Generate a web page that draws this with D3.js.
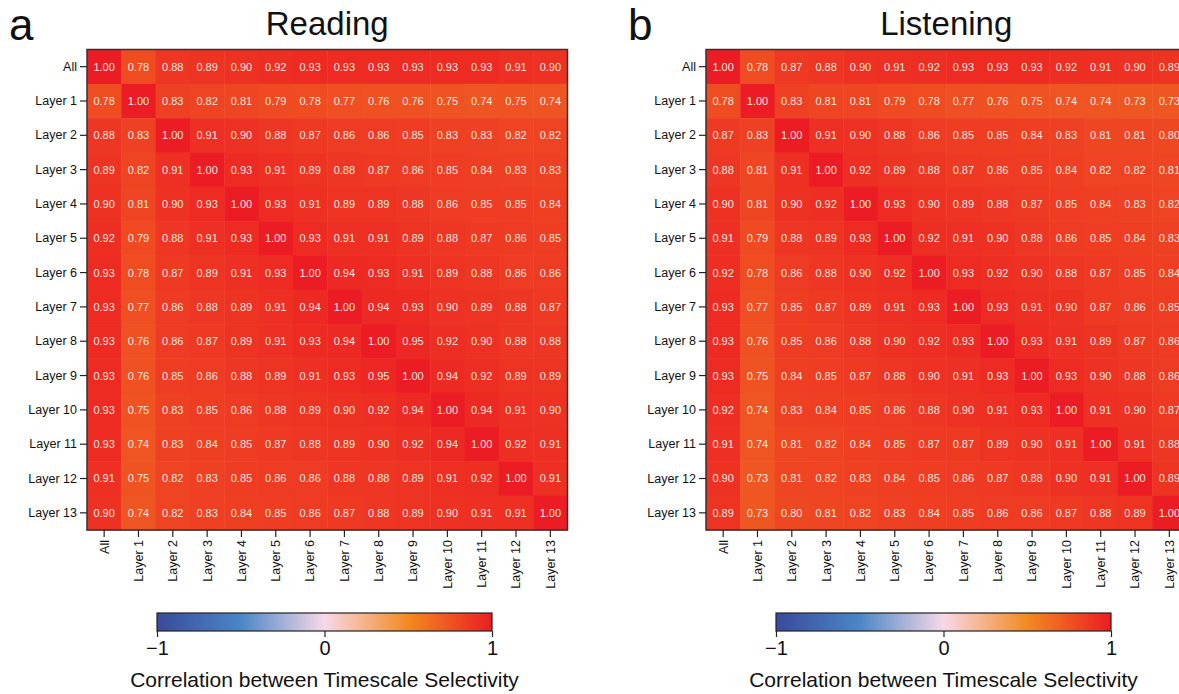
<!DOCTYPE html>
<html>
<head>
<meta charset="utf-8">
<script src="https://cdn.jsdelivr.net/npm/d3@7"></script>
<style>
  body { margin: 0; background: #fff; }
  svg { display: block; font-family: "Liberation Sans", Arial, sans-serif; }
</style>
</head>
<body>
<div id="chart"></div>
<script>
// labels shared by both matrices
const layers = ["All", "Layer 1", "Layer 2", "Layer 3", "Layer 4", "Layer 5", "Layer 6",
  "Layer 7", "Layer 8", "Layer 9", "Layer 10", "Layer 11", "Layer 12", "Layer 13"];

// panel a - Reading
const reading = [
  [1.00, 0.78, 0.88, 0.89, 0.90, 0.92, 0.93, 0.93, 0.93, 0.93, 0.93, 0.93, 0.91, 0.90],
  [0.78, 1.00, 0.83, 0.82, 0.81, 0.79, 0.78, 0.77, 0.76, 0.76, 0.75, 0.74, 0.75, 0.74],
  [0.88, 0.83, 1.00, 0.91, 0.90, 0.88, 0.87, 0.86, 0.86, 0.85, 0.83, 0.83, 0.82, 0.82],
  [0.89, 0.82, 0.91, 1.00, 0.93, 0.91, 0.89, 0.88, 0.87, 0.86, 0.85, 0.84, 0.83, 0.83],
  [0.90, 0.81, 0.90, 0.93, 1.00, 0.93, 0.91, 0.89, 0.89, 0.88, 0.86, 0.85, 0.85, 0.84],
  [0.92, 0.79, 0.88, 0.91, 0.93, 1.00, 0.93, 0.91, 0.91, 0.89, 0.88, 0.87, 0.86, 0.85],
  [0.93, 0.78, 0.87, 0.89, 0.91, 0.93, 1.00, 0.94, 0.93, 0.91, 0.89, 0.88, 0.86, 0.86],
  [0.93, 0.77, 0.86, 0.88, 0.89, 0.91, 0.94, 1.00, 0.94, 0.93, 0.90, 0.89, 0.88, 0.87],
  [0.93, 0.76, 0.86, 0.87, 0.89, 0.91, 0.93, 0.94, 1.00, 0.95, 0.92, 0.90, 0.88, 0.88],
  [0.93, 0.76, 0.85, 0.86, 0.88, 0.89, 0.91, 0.93, 0.95, 1.00, 0.94, 0.92, 0.89, 0.89],
  [0.93, 0.75, 0.83, 0.85, 0.86, 0.88, 0.89, 0.90, 0.92, 0.94, 1.00, 0.94, 0.91, 0.90],
  [0.93, 0.74, 0.83, 0.84, 0.85, 0.87, 0.88, 0.89, 0.90, 0.92, 0.94, 1.00, 0.92, 0.91],
  [0.91, 0.75, 0.82, 0.83, 0.85, 0.86, 0.86, 0.88, 0.88, 0.89, 0.91, 0.92, 1.00, 0.91],
  [0.90, 0.74, 0.82, 0.83, 0.84, 0.85, 0.86, 0.87, 0.88, 0.89, 0.90, 0.91, 0.91, 1.00]
];

// panel b - Listening
const listening = [
  [1.00, 0.78, 0.87, 0.88, 0.90, 0.91, 0.92, 0.93, 0.93, 0.93, 0.92, 0.91, 0.90, 0.89],
  [0.78, 1.00, 0.83, 0.81, 0.81, 0.79, 0.78, 0.77, 0.76, 0.75, 0.74, 0.74, 0.73, 0.73],
  [0.87, 0.83, 1.00, 0.91, 0.90, 0.88, 0.86, 0.85, 0.85, 0.84, 0.83, 0.81, 0.81, 0.80],
  [0.88, 0.81, 0.91, 1.00, 0.92, 0.89, 0.88, 0.87, 0.86, 0.85, 0.84, 0.82, 0.82, 0.81],
  [0.90, 0.81, 0.90, 0.92, 1.00, 0.93, 0.90, 0.89, 0.88, 0.87, 0.85, 0.84, 0.83, 0.82],
  [0.91, 0.79, 0.88, 0.89, 0.93, 1.00, 0.92, 0.91, 0.90, 0.88, 0.86, 0.85, 0.84, 0.83],
  [0.92, 0.78, 0.86, 0.88, 0.90, 0.92, 1.00, 0.93, 0.92, 0.90, 0.88, 0.87, 0.85, 0.84],
  [0.93, 0.77, 0.85, 0.87, 0.89, 0.91, 0.93, 1.00, 0.93, 0.91, 0.90, 0.87, 0.86, 0.85],
  [0.93, 0.76, 0.85, 0.86, 0.88, 0.90, 0.92, 0.93, 1.00, 0.93, 0.91, 0.89, 0.87, 0.86],
  [0.93, 0.75, 0.84, 0.85, 0.87, 0.88, 0.90, 0.91, 0.93, 1.00, 0.93, 0.90, 0.88, 0.86],
  [0.92, 0.74, 0.83, 0.84, 0.85, 0.86, 0.88, 0.90, 0.91, 0.93, 1.00, 0.91, 0.90, 0.87],
  [0.91, 0.74, 0.81, 0.82, 0.84, 0.85, 0.87, 0.87, 0.89, 0.90, 0.91, 1.00, 0.91, 0.88],
  [0.90, 0.73, 0.81, 0.82, 0.83, 0.84, 0.85, 0.86, 0.87, 0.88, 0.90, 0.91, 1.00, 0.89],
  [0.89, 0.73, 0.80, 0.81, 0.82, 0.83, 0.84, 0.85, 0.86, 0.86, 0.87, 0.88, 0.89, 1.00]
];

const cbTicks = [-1, 0, 1];
const cbLabel = "Correlation between Timescale Selectivity";

const width = 1179;
const height = 694;

const color = d3.scaleLinear()
  .domain([-1, -0.5, 0, 0.5, 1])
  .range(["#3a4a9c", "#4b86c6", "#f8d8e8", "#f28a20", "#ec1c24"])
  .interpolate(d3.interpolateRgb);

const svg = d3.select("#chart").append("svg")
  .attr("width", width)
  .attr("height", height);

// gradient for the colour bars
const grad = svg.append("defs").append("linearGradient")
  .attr("id", "cbgrad");
grad.selectAll("stop")
  .data(d3.range(0, 1.0001, 0.05))
  .join("stop")
  .attr("offset", d => d)
  .attr("stop-color", d => color(d * 2 - 1));

drawPanel(87, "a", "Reading", reading);
drawPanel(706, "b", "Listening", listening);

function drawPanel(left, letter, title, matrix) {
  const top = 49.5;
  const size = 480.5;
  const font = "'Liberation Sans', Arial, sans-serif";

  const x = d3.scaleBand().domain(layers).range([left, left + size]);
  const y = d3.scaleBand().domain(layers).range([top, top + size]);

  const cells = [];
  matrix.forEach((row, i) => row.forEach((v, j) => cells.push({ r: layers[i], c: layers[j], v })));

  const g = svg.append("g");

  g.append("g")
    .selectAll("rect")
    .data(cells)
    .join("rect")
    .attr("x", d => x(d.c))
    .attr("y", d => y(d.r))
    .attr("width", x.bandwidth() + 0.5)
    .attr("height", y.bandwidth() + 0.5)
    .attr("fill", d => color(d.v));

  g.append("g")
    .attr("text-anchor", "middle")
    .attr("font-size", 11)
    .attr("fill", "#fde6df")
    .selectAll("text")
    .data(cells)
    .join("text")
    .attr("x", d => x(d.c) + x.bandwidth() / 2)
    .attr("y", d => y(d.r) + y.bandwidth() / 2)
    .attr("dy", "0.36em")
    .text(d => d.v.toFixed(2));

  g.append("rect")
    .attr("x", left)
    .attr("y", top)
    .attr("width", size)
    .attr("height", size)
    .attr("fill", "none")
    .attr("stroke", "#333")
    .attr("stroke-width", 1.5);

  // y axis
  g.append("g")
    .attr("transform", `translate(${left},0)`)
    .call(d3.axisLeft(y).tickSize(7).tickPadding(3))
    .call(a => a.select(".domain").remove())
    .call(a => a.selectAll(".tick line").attr("stroke", "#222").attr("stroke-width", 1.2))
    .call(a => a.selectAll("text").attr("font-size", 12.5).attr("fill", "#111").attr("font-family", font));

  // x axis, labels rotated
  g.append("g")
    .attr("transform", `translate(0,${top + size})`)
    .call(d3.axisBottom(x).tickSize(7).tickPadding(3))
    .call(a => a.select(".domain").remove())
    .call(a => a.selectAll(".tick line").attr("stroke", "#222").attr("stroke-width", 1.2))
    .call(a => a.selectAll("text")
      .attr("font-size", 12.5)
      .attr("fill", "#111")
      .attr("font-family", font)
      .attr("transform", "rotate(-90)")
      .attr("text-anchor", "end")
      .attr("x", -10)
      .attr("y", 0)
      .attr("dy", "0.35em"));

  // title and panel letter
  svg.append("text")
    .attr("x", left + size / 2)
    .attr("y", 35)
    .attr("text-anchor", "middle")
    .attr("font-size", 33)
    .attr("fill", "#111")
    .text(title);

  svg.append("text")
    .attr("x", left - 78)
    .attr("y", 40)
    .attr("font-size", 44)
    .attr("fill", "#111")
    .text(letter);

  // colour bar
  const cbX = d3.scaleLinear().domain([-1, 1]).range([left + 70, left + 405]);
  const cbTop = 613;
  const cbH = 18;

  svg.append("rect")
    .attr("x", cbX(-1))
    .attr("y", cbTop)
    .attr("width", cbX(1) - cbX(-1))
    .attr("height", cbH)
    .attr("fill", "url(#cbgrad)")
    .attr("stroke", "#222")
    .attr("stroke-width", 1.2);

  svg.append("g")
    .attr("transform", `translate(0,${cbTop + cbH})`)
    .call(d3.axisBottom(cbX).tickValues(cbTicks).tickSize(6).tickPadding(4)
      .tickFormat(d => d < 0 ? "\u2212" + Math.abs(d) : d))
    .call(a => a.select(".domain").remove())
    .call(a => a.selectAll(".tick line").attr("stroke", "#222").attr("stroke-width", 1.2))
    .call(a => a.selectAll("text").attr("font-size", 20).attr("fill", "#111").attr("font-family", font));

  svg.append("text")
    .attr("x", cbX(0))
    .attr("y", 687)
    .attr("text-anchor", "middle")
    .attr("font-size", 21)
    .attr("fill", "#111")
    .text(cbLabel);
}
</script>
</body>
</html>
